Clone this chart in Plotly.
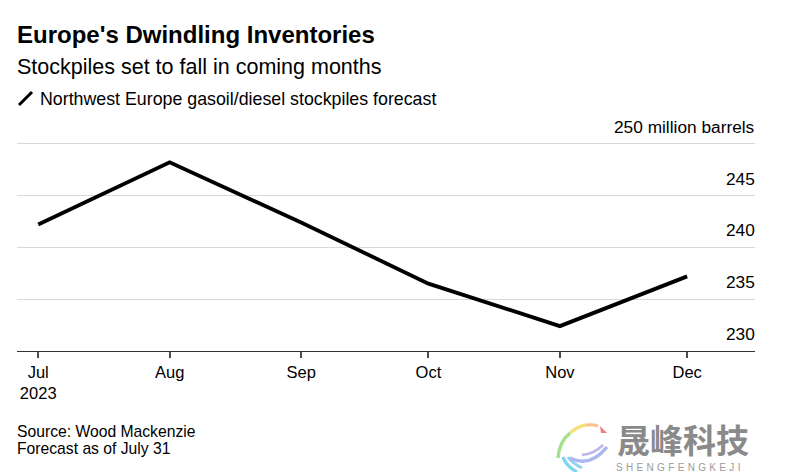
import plotly.graph_objects as go

# values (million barrels)
months = ["2023-07-01", "2023-08-01", "2023-09-01", "2023-10-01", "2023-11-01", "2023-12-01"]
stockpiles = [242.2, 248.2, 242.4, 236.5, 232.4, 237.2]

x_ticks = months
x_labels = ["Jul<br>2023", "Aug", "Sep", "Oct", "Nov", "Dec"]
y_ticks = [230, 235, 240, 245, 250]
y_labels = ["230", "235", "240", "245", "250 million barrels"]

W, H = 807, 472
FONT = "Liberation Sans"
LEFT, RIGHT, TOP, BOTTOM = 17, 755, 123, 351


# pixel helpers for the text and furniture outside the plot area
def px(x):
    return (x - LEFT) / (RIGHT - LEFT)


def py(y):
    return (BOTTOM - y) / (BOTTOM - TOP)


def label(text, x, y, size, color="#000000", bold=False, family=FONT):
    return dict(
        text=f"<b>{text}</b>" if bold else text,
        x=px(x - 2), y=py(y), xref="paper", yref="paper",
        xanchor="left", yanchor="middle", showarrow=False,
        align="left", font=dict(size=size, color=color, family=family),
    )


def arc(path_px, color, width):
    # path_px: list of (cmd, x, y, ...) pieces in pixels
    parts = []
    for cmd, *pts in path_px:
        coords = " ".join(f"{px(pts[i])},{py(pts[i + 1])}" for i in range(0, len(pts), 2))
        parts.append(f"{cmd} {coords}")
    return dict(type="path", path=" ".join(parts), xref="paper", yref="paper",
                line=dict(color=color, width=width), layer="above")


fig = go.Figure()
fig.add_trace(go.Scatter(x=months, y=stockpiles, mode="lines",
                         line=dict(color="#000000", width=3.8), cliponaxis=False,
                         showlegend=False))

annotations = [
    label("Europe's Dwindling Inventories", 17, 35, 24, bold=True),
    label("Stockpiles set to fall in coming months", 17, 67, 21.5),
    label("Northwest Europe gasoil/diesel stockpiles forecast", 40, 99, 17.8),
    label("Source: Wood Mackenzie", 17, 431, 15.7),
    label("Forecast as of July 31", 17, 448, 15.7),
    # watermark
    label("晟峰科技", 617, 438.5, 33, color="#8a8a8a", bold=True, family="Noto Sans CJK SC"),
    label("\u2004".join("SHENGFENGKEJI"), 616, 467, 10, color="#9a9a9a"),
]

# y labels sit above their gridlines at the right edge
for tick, text in zip(y_ticks, y_labels):
    annotations.append(dict(text=text, x=1, y=tick, xref="paper", yref="y",
                            xanchor="right", yanchor="middle", yshift=17, xshift=2,
                            showarrow=False, font=dict(size=17.3, color="#000000", family=FONT)))

shapes = [
    # legend glyph
    dict(type="line", x0=px(19), y0=py(105), x1=px(32), y1=py(92), xref="paper", yref="paper",
         line=dict(color="#000000", width=3)),
    # watermark swirl
    arc([("M", 558, 458), ("Q", 559, 442, 570, 433)], "#a5e08c", 3.5),
    arc([("M", 570, 433), ("Q", 578, 426, 586, 425)], "#f5e27a", 3.5),
    arc([("M", 586, 425), ("Q", 592, 424, 598, 426)], "#f9c38a", 3),
    dict(type="path",
         path=f"M {px(600)},{py(426)} L {px(607)},{py(433)} L {px(601)},{py(433)} Z",
         xref="paper", yref="paper", fillcolor="#f28080", line=dict(width=0)),
    arc([("M", 563, 457), ("Q", 566, 466, 577, 472)], "#7fd6f0", 3.5),
    arc([("M", 568, 457), ("Q", 572, 463, 582, 468)], "#8fd0f5", 3),
    arc([("M", 570, 458), ("Q", 590, 468, 607, 447)], "#a9b8f0", 3.5),
    arc([("M", 582, 455), ("Q", 594, 454, 603, 445)], "#c5b3ef", 2.5),
]

fig.update_layout(
    width=W, height=H, autosize=False,
    margin=dict(l=LEFT, r=W - RIGHT, t=TOP, b=H - BOTTOM, pad=0),
    paper_bgcolor="#ffffff", plot_bgcolor="#ffffff",
    font=dict(family=FONT, size=16.5, color="#000000"),
    annotations=annotations, shapes=shapes,
    xaxis=dict(type="date", range=["2023-06-26", "2023-12-17"],
               tickmode="array", tickvals=x_ticks, ticktext=x_labels,
               tickfont=dict(color="#000000"),
               showgrid=False, zeroline=False,
               showline=True, linecolor="#333333", linewidth=1,
               ticks="outside", ticklen=6, tickwidth=1.5, tickcolor="#4d4d4d"),
    yaxis=dict(range=[230, 252], side="right", tickmode="array",
               tickvals=y_ticks, showticklabels=False, ticks="",
               showgrid=True, gridcolor="#d9d9d9", gridwidth=1,
               zeroline=False, showline=False),
)

# the page's default body margin would shift the figure off the 807x472 window
fig.write_html("out.html", config=dict(displayModeBar=False),
               post_script="document.body.style.margin='0';")
